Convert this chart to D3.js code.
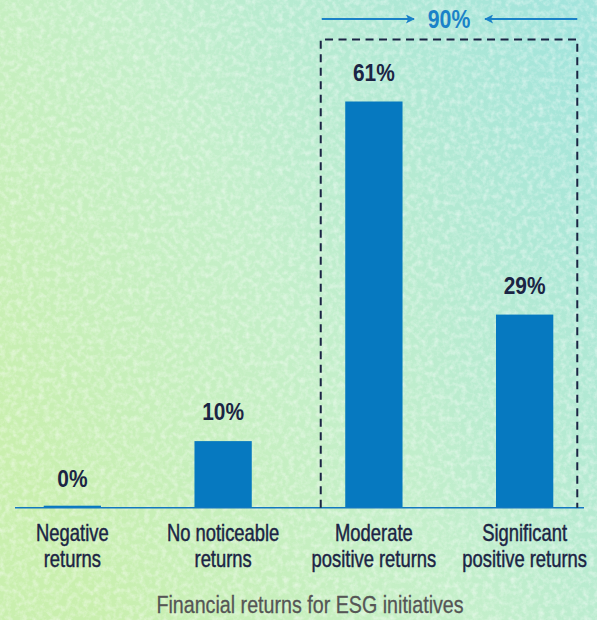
<!DOCTYPE html>
<html>
<head>
<meta charset="utf-8">
<script src="https://cdn.jsdelivr.net/npm/d3@7"></script>
<style>
  html, body { margin: 0; padding: 0; }
  body { width: 597px; height: 620px; overflow: hidden; }
  svg { display: block; }
</style>
</head>
<body>
<div id="chart"></div>
<script>
// data
const categories = [
  ["Negative", "returns"],
  ["No noticeable", "returns"],
  ["Moderate", "positive returns"],
  ["Significant", "positive returns"]
];
const values = [0, 10, 61, 29];
const groupLabel = "90%";
const axisTitle = "Financial returns for ESG initiatives";

const width = 597, height = 620;
const font = "'Liberation Sans', Arial, sans-serif";
const navy = "#1b2444";
const blue = "#0679c0";

// pas de police condensée installée : on écrase le texte en largeur
function place(x, y, k) {
  return `translate(${x},${y}) scale(${k},1)`;
}

let svg = d3.select("#chart").append("svg")
  .attr("width", width)
  .attr("height", height);

// fond dégradé vert -> cyan avec un peu de texture
let defs = svg.append("defs");
let grad = defs.append("linearGradient")
  .attr("id", "bg")
  .attr("x1", "0%").attr("y1", "70%")
  .attr("x2", "100%").attr("y2", "10%");
grad.append("stop").attr("offset", "0%").attr("stop-color", "#c9efae");
grad.append("stop").attr("offset", "45%").attr("stop-color", "#c4efca");
grad.append("stop").attr("offset", "100%").attr("stop-color", "#a2e4dc");

let noise = defs.append("filter").attr("id", "noise");
noise.append("feTurbulence")
  .attr("type", "fractalNoise")
  .attr("baseFrequency", 0.18)
  .attr("numOctaves", 3)
  .attr("seed", 3);
noise.append("feColorMatrix")
  .attr("values", "0 0 0 0 1  0 0 0 0 1  0 0 0 0 1  0 0 0 -1.8 1.1");

svg.append("rect").attr("width", width).attr("height", height).attr("fill", "url(#bg)");
svg.append("rect").attr("width", width).attr("height", height)
  .attr("filter", "url(#noise)").attr("opacity", 0.5);

let keys = d3.range(categories.length);

let x = d3.scaleBand()
  .domain(keys)
  .range([0, width])
  .paddingInner(0.62)
  .paddingOuter(0.29);

let y = d3.scaleLinear()
  .domain([0, d3.max(values)])
  .range([507.7, 101.5]);

// barres
svg.append("g")
  .selectAll("rect")
  .data(values)
  .join("rect")
  .attr("x", (d, i) => x(i))
  .attr("width", x.bandwidth())
  .attr("y", d => Math.min(y(d), y(0) - 2))
  .attr("height", d => Math.max(y(0) - y(d), 2))
  .attr("fill", blue);

// axe
svg.append("line")
  .attr("x1", 15).attr("x2", 584)
  .attr("y1", y(0)).attr("y2", y(0))
  .style("stroke", "#1478c0")
  .style("stroke-width", 1.5);

// valeurs
svg.append("g")
  .selectAll("text")
  .data(values)
  .join("text")
  .attr("transform", (d, i) => place(x(i) + x.bandwidth() / 2, y(d) - 21, 0.87))
  .style("text-anchor", "middle")
  .style("font-family", font)
  .style("font-weight", "bold")
  .style("font-size", "24px")
  .style("fill", navy)
  .text(d => d + "%");

// catégories, une ligne par texte
categories.forEach((lines, i) => {
  svg.append("g")
    .selectAll("text")
    .data(lines)
    .join("text")
    .attr("transform", (d, j) => place(x(i) + x.bandwidth() / 2, 540.5 + j * 26.3, 0.8))
    .style("text-anchor", "middle")
    .style("font-family", font)
    .style("font-size", "23px")
    .style("fill", navy)
    .style("stroke", navy)
    .style("stroke-width", 0.45)
    .text(d => d);
});

// titre de l'axe
svg.append("text")
  .attr("transform", place(310, 613, 0.82))
  .style("text-anchor", "middle")
  .style("font-family", font)
  .style("font-size", "24px")
  .style("fill", "#555555")
  .style("stroke", "#555555")
  .style("stroke-width", 0.3)
  .text(axisTitle);

// cadre pointillé autour des deux dernières barres
let boxLeft = x(2) - 24.5;
let boxRight = x(3) + x.bandwidth() + 24;
let boxTop = 39.5;
svg.append("path")
  .attr("d", `M${boxLeft},${y(0)} V${boxTop} H${boxRight} V${y(0)}`)
  .style("fill", "none")
  .style("stroke", navy)
  .style("stroke-width", 2)
  .style("stroke-dasharray", "8,5.5");

// flèches + total
defs.append("marker")
  .attr("id", "arrow")
  .attr("viewBox", "0 0 10 10")
  .attr("refX", 9).attr("refY", 5)
  .attr("markerWidth", 11).attr("markerHeight", 9)
  .attr("markerUnits", "userSpaceOnUse")
  .attr("orient", "auto")
  .append("path")
  .attr("d", "M0,0 L10,5 L0,10 L2.5,5 Z")
  .attr("fill", "#1a82c8");

let midX = (boxLeft + boxRight) / 2;
svg.append("line")
  .attr("x1", boxLeft + 1).attr("x2", midX - 35)
  .attr("y1", 19).attr("y2", 19)
  .style("stroke", "#1a82c8").style("stroke-width", 2)
  .attr("marker-end", "url(#arrow)");
svg.append("line")
  .attr("x1", boxRight).attr("x2", midX + 36)
  .attr("y1", 19).attr("y2", 19)
  .style("stroke", "#1a82c8").style("stroke-width", 2)
  .attr("marker-end", "url(#arrow)");

svg.append("text")
  .attr("transform", place(midX, 28, 0.85))
  .style("text-anchor", "middle")
  .style("font-family", font)
  .style("font-weight", "bold")
  .style("font-size", "25px")
  .style("fill", "#1a82c8")
  .text(groupLabel);
</script>
</body>
</html>
